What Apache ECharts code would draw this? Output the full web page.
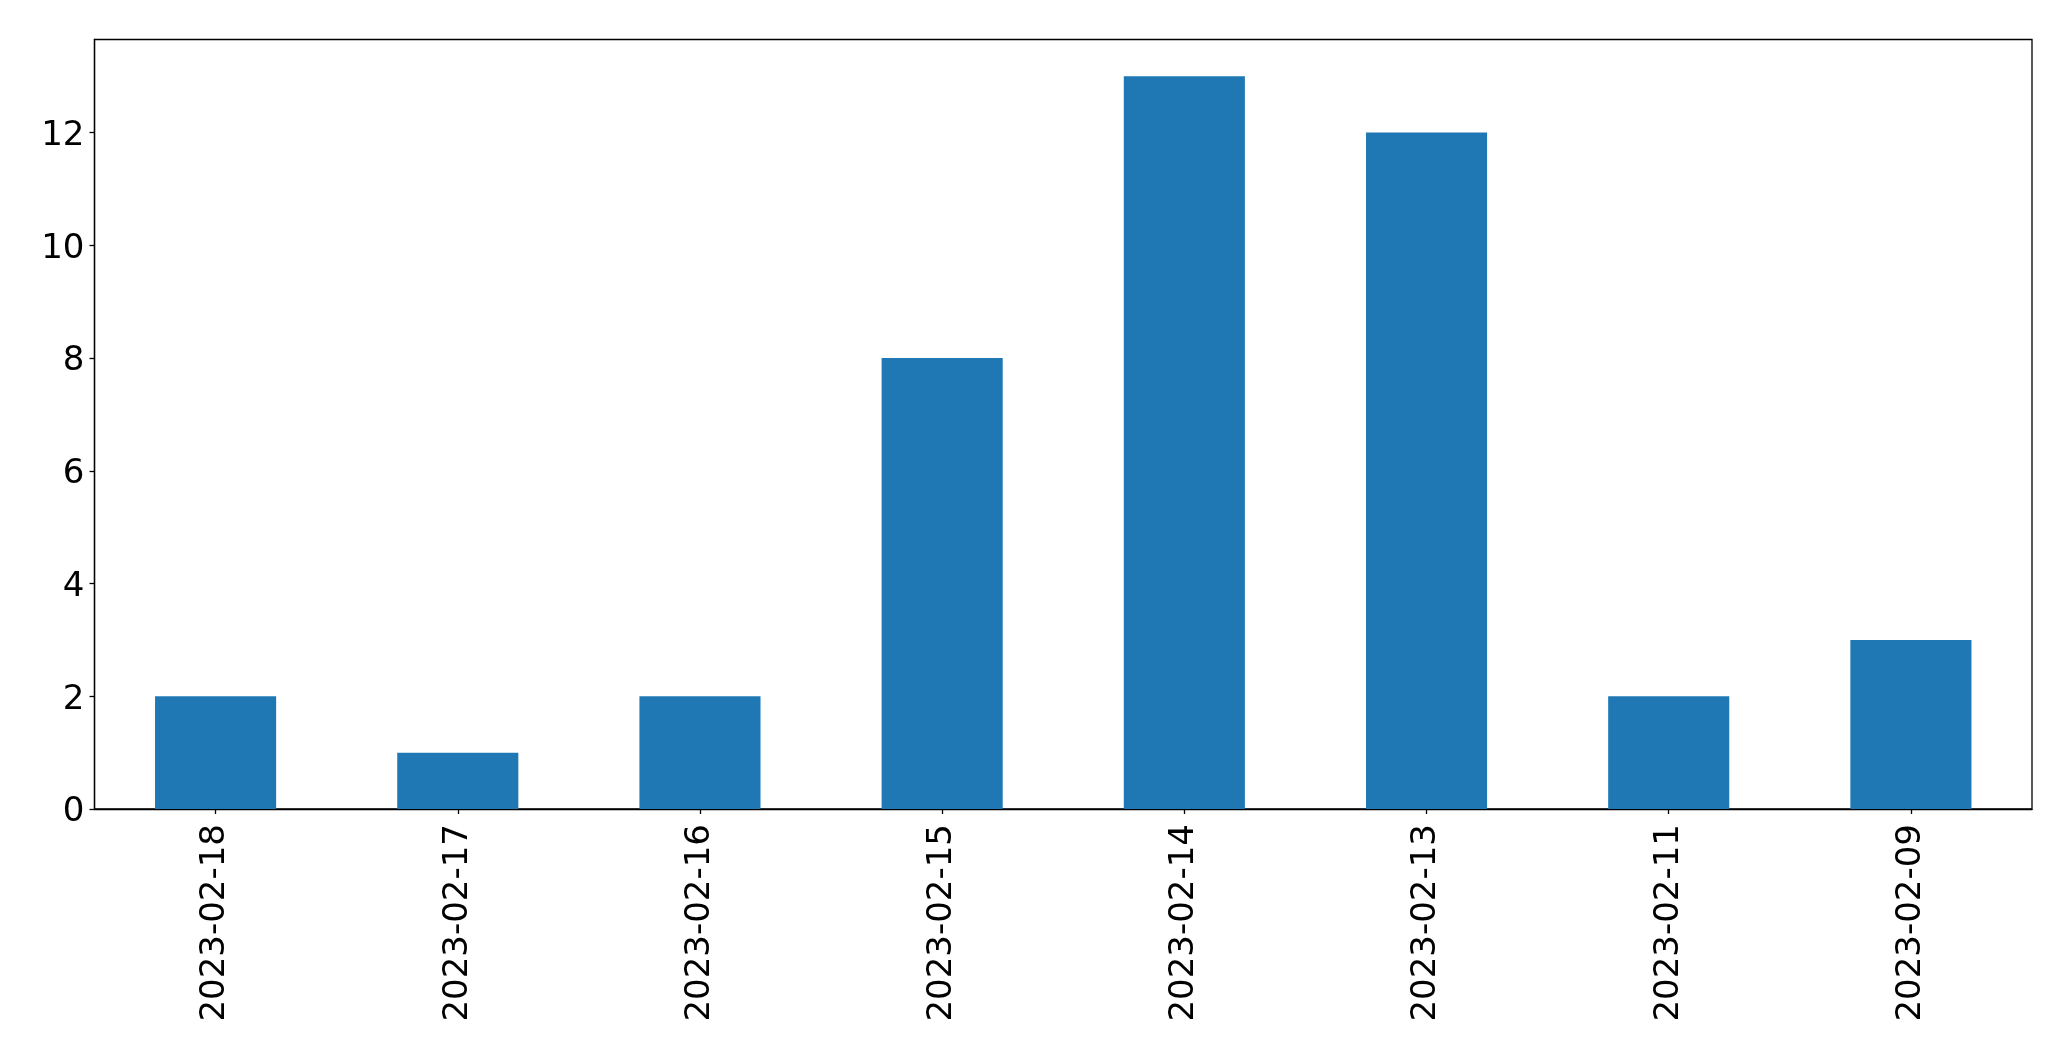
<!DOCTYPE html>
<html>
<head>
<meta charset="utf-8">
<script src="https://cdn.jsdelivr.net/npm/echarts@6/dist/echarts.min.js"></script>
<style>
html,body{margin:0;padding:0;background:#fff;}
#chart{width:2071px;height:1061px;}
</style>
</head>
<body>
<div id="chart"></div>
<script>
const categories = ['2023-02-18','2023-02-17','2023-02-16','2023-02-15','2023-02-14','2023-02-13','2023-02-11','2023-02-09'];
const counts = [2, 1, 2, 8, 13, 12, 2, 3];
const yTicks = [0, 2, 4, 6, 8, 10, 12];

const chart = echarts.init(document.getElementById('chart'));
const font = 'DejaVu Sans';
chart.setOption({
  animation: false,
  backgroundColor: '#ffffff',
  grid: {
    left: 94.5, right: 39, top: 39.5, bottom: 252,
    show: true, borderColor: '#000', borderWidth: 1.3, backgroundColor: 'transparent'
  },
  xAxis: {
    type: 'category',
    data: categories,
    boundaryGap: true,
    axisLine: {show: true, lineStyle: {color: '#000', width: 1.3}},
    axisTick: {show: true, alignWithLabel: true, length: 5, lineStyle: {color: '#000', width: 1.3}},
    axisLabel: {rotate: 90, fontSize: 34, fontFamily: font, color: '#000', margin: 15}
  },
  yAxis: {
    type: 'value',
    min: 0,
    max: 13.65,
    interval: 2,
    splitLine: {show: false},
    axisLine: {show: true, lineStyle: {color: '#000', width: 1.3}},
    axisTick: {show: true, length: 5, lineStyle: {color: '#000', width: 1.3}, customValues: yTicks},
    axisLabel: {
      fontSize: 34, fontFamily: font, color: '#000', margin: 10, customValues: yTicks,
      formatter: '{a|{value}}',
      rich: {a: {fontSize: 34, fontFamily: font, color: '#000', padding: [7, 0, 0, 0]}}
    }
  },
  series: [{
    type: 'bar',
    data: counts,
    barWidth: '50%',
    itemStyle: {color: '#1f77b4'}
  }]
});
</script>
</body>
</html>
